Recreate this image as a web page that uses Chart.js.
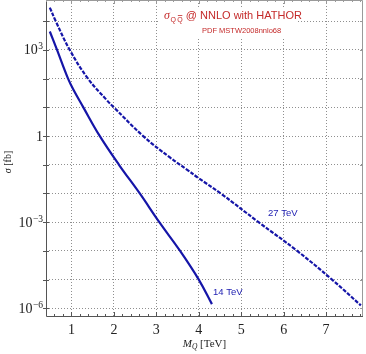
<!DOCTYPE html>
<html>
<head>
<meta charset="utf-8">
<script src="https://cdn.jsdelivr.net/npm/chart.js@4"></script>
<style>
  body { margin: 0; background: #fff; }
  #wrap { width: 366px; height: 354px; }
</style>
</head>
<body>
<div id="wrap"><canvas id="chart"></canvas></div>
<script>
// heavy quark mass (TeV) and cross section (fb)
const mass14 = [0.49, 0.66, 0.92, 1.05, 1.28, 1.65, 2.12, 2.61, 3.07, 3.56, 4.0, 4.31];
const sigma14 = [4400, 1000, 100, 40, 10, 1.1, 0.1, 0.01, 1e-3, 1e-4, 1e-5, 1.4e-6];
const mass27 = [0.49, 0.63, 0.96, 1.39, 1.83, 2.0, 2.69, 3.32, 3.72, 4.0, 4.52, 5.41, 6.32, 7.14, 7.82];
const sigma27 = [30000, 10000, 1000, 100, 18, 10, 1, 0.18, 0.068, 0.034, 0.01, 1e-3, 1e-4, 1e-5, 1.26e-6];

// axis ticks
const xTicks = [1, 2, 3, 4, 5, 6, 7];
const yDecades = [-6, -5, -4, -3, -2, -1, 0, 1, 2, 3, 4];
const yLabelled = [-6, -3, 0, 3];

const blue = '#1515a8';
const red = '#c42a2a';
const serif = '"Liberation Serif", "DejaVu Serif", serif';
const sans = '"Liberation Sans", Arial, sans-serif';

function toPoints(xs, ys) {
    return xs.map((m, i) => ({ x: m, y: ys[i] }));
}

// frame, inward ticks, tick labels, titles and curve labels
const decorPlugin = {
    id: 'decor',
    afterDraw(chart) {
        const { ctx, chartArea: a, scales: { x, y } } = chart;
        ctx.save();

        // frame
        ctx.lineWidth = 1;
        ctx.strokeStyle = '#9a9a9a';
        ctx.beginPath();
        ctx.moveTo(a.left, a.top + 0.5);
        ctx.lineTo(a.right - 0.5, a.top + 0.5);
        ctx.lineTo(a.right - 0.5, a.bottom);
        ctx.stroke();
        ctx.strokeStyle = '#555';
        ctx.beginPath();
        ctx.moveTo(a.left + 0.5, a.top);
        ctx.lineTo(a.left + 0.5, a.bottom + 0.5);
        ctx.lineTo(a.right, a.bottom + 0.5);
        ctx.stroke();

        // x ticks every 0.2, longer on integers
        for (let k = 2; k * 0.2 < x.max; k++) {
            const px = Math.round(x.getPixelForValue(k / 5)) + 0.5;
            const len = k % 5 === 0 ? 4 : 2;
            ctx.strokeStyle = '#555';
            ctx.beginPath();
            ctx.moveTo(px, a.bottom);
            ctx.lineTo(px, a.bottom - len);
            ctx.stroke();
            ctx.strokeStyle = '#9a9a9a';
            ctx.beginPath();
            ctx.moveTo(px, a.top);
            ctx.lineTo(px, a.top + len);
            ctx.stroke();
        }
        // y ticks on decades
        yDecades.forEach(e => {
            const py = Math.round(y.getPixelForValue(Math.pow(10, e))) + 0.5;
            ctx.strokeStyle = '#555';
            ctx.beginPath();
            ctx.moveTo(a.left - 3, py);
            ctx.lineTo(a.left + 3, py);
            ctx.stroke();
            ctx.strokeStyle = '#9a9a9a';
            ctx.beginPath();
            ctx.moveTo(a.right - 3, py);
            ctx.lineTo(a.right, py);
            ctx.stroke();
        });

        // x tick labels
        ctx.fillStyle = '#222';
        ctx.font = '14px ' + serif;
        ctx.textAlign = 'center';
        ctx.textBaseline = 'alphabetic';
        xTicks.forEach(v => ctx.fillText(String(v), x.getPixelForValue(v), a.bottom + 17.5));

        // y tick labels 10^n
        const right = a.left - 3;
        yLabelled.forEach(e => {
            const py = y.getPixelForValue(Math.pow(10, e));
            ctx.textAlign = 'right';
            if (e === 0) {
                ctx.font = '14px ' + serif;
                ctx.fillText('1', right, py + 4.5);
                return;
            }
            const ex = e < 0 ? '\u2212' + (-e) : String(e);
            ctx.font = '9.5px ' + serif;
            const w = ctx.measureText(ex).width;
            ctx.fillText(ex, right, py - 0.5);
            ctx.font = '14px ' + serif;
            ctx.fillText('10', right - w - 0.5, py + 4.5);
        });

        // y axis title
        ctx.save();
        ctx.translate(11, (a.top + a.bottom) / 2 + 4);
        ctx.rotate(-Math.PI / 2);
        ctx.textAlign = 'left';
        ctx.font = 'italic 10px ' + serif;
        const sw = ctx.measureText('\u03c3').width;
        ctx.font = '10px ' + serif;
        const rw = ctx.measureText(' [fb]').width;
        ctx.font = 'italic 10px ' + serif;
        ctx.fillText('\u03c3', -(sw + rw) / 2, 0);
        ctx.font = '10px ' + serif;
        ctx.fillText(' [fb]', -(sw + rw) / 2 + sw, 0);
        ctx.restore();

        // x axis title
        const cx = (a.left + a.right) / 2;
        ctx.textAlign = 'left';
        ctx.font = 'italic 11px ' + serif;
        const mw = ctx.measureText('M').width;
        ctx.font = 'italic 7.5px ' + serif;
        const qw = ctx.measureText('Q').width;
        ctx.font = '11px ' + serif;
        const tw = ctx.measureText(' [TeV]').width;
        const tx = cx - (mw + qw + tw) / 2;
        const ty = 347;
        ctx.font = 'italic 11px ' + serif;
        ctx.fillText('M', tx, ty);
        ctx.font = 'italic 7.5px ' + serif;
        ctx.fillText('Q', tx + mw, ty + 2);
        ctx.font = '11px ' + serif;
        ctx.fillText(' [TeV]', tx + mw + qw, ty);

        // plot title box: sigma_{Q Qbar} @ NNLO with HATHOR
        ctx.fillStyle = '#fff';
        ctx.fillRect(160, 8, 136, 30);
        ctx.fillStyle = red;
        ctx.strokeStyle = red;
        let hx = 164;
        ctx.font = 'italic 12px ' + serif;
        ctx.fillText('\u03c3', hx, 19);
        hx += ctx.measureText('\u03c3').width + 0.5;
        ctx.font = '7px ' + sans;
        const q = ctx.measureText('Q').width;
        ctx.fillText('Q', hx, 22);
        hx += q + 1.5;
        ctx.fillText('Q', hx, 22);
        ctx.lineWidth = 0.8;
        ctx.beginPath();
        ctx.moveTo(hx + 0.5, 15.5);
        ctx.lineTo(hx + q - 0.5, 15.5);
        ctx.stroke();
        hx += q + 3;
        ctx.font = '11px ' + sans;
        ctx.fillText('@ NNLO with HATHOR', hx, 19);
        ctx.font = '7.5px ' + sans;
        ctx.fillText('PDF MSTW2008nnlo68', 202, 32.5);

        // curve labels
        ctx.fillStyle = '#2323b3';
        ctx.font = '9.5px ' + sans;
        ctx.fillText('27 TeV', 268, 216);
        ctx.fillText('14 TeV', 213, 295);

        ctx.restore();
    }
};

new Chart(document.getElementById('chart'), {
    type: 'line',
    data: {
        datasets: [
            {
                label: '14 TeV',
                data: toPoints(mass14, sigma14),
                borderColor: blue,
                borderWidth: 2.2,
                pointRadius: 0,
                fill: false,
                tension: 0.4
            },
            {
                label: '27 TeV',
                data: toPoints(mass27, sigma27),
                borderColor: blue,
                borderWidth: 2.2,
                borderDash: [4, 1.5],
                pointRadius: 0,
                fill: false,
                tension: 0.4
            }
        ]
    },
    options: {
        responsive: true,
        maintainAspectRatio: false,
        animation: false,
        layout: { padding: { top: 0, right: 3, left: 0, bottom: 0 } },
        plugins: { legend: { display: false }, tooltip: { enabled: false } },
        scales: {
            x: {
                type: 'linear',
                min: 0.4,
                max: 7.87,
                afterBuildTicks: s => { s.ticks = xTicks.map(v => ({ value: v })); },
                afterFit: s => { s.height = 38; },
                ticks: { display: false },
                grid: { color: '#8f8f8f', lineWidth: 1, drawTicks: false },
                border: { display: false, dash: [1, 2] }
            },
            y: {
                type: 'logarithmic',
                min: 5.4e-7,
                max: 5.5e4,
                afterBuildTicks: s => { s.ticks = yDecades.map(e => ({ value: Math.pow(10, e) })); },
                afterFit: s => { s.width = 46; },
                ticks: { display: false },
                grid: { color: '#8f8f8f', lineWidth: 1, drawTicks: false },
                border: { display: false, dash: [1, 2] }
            }
        }
    },
    plugins: [decorPlugin]
});
</script>
</body>
</html>
